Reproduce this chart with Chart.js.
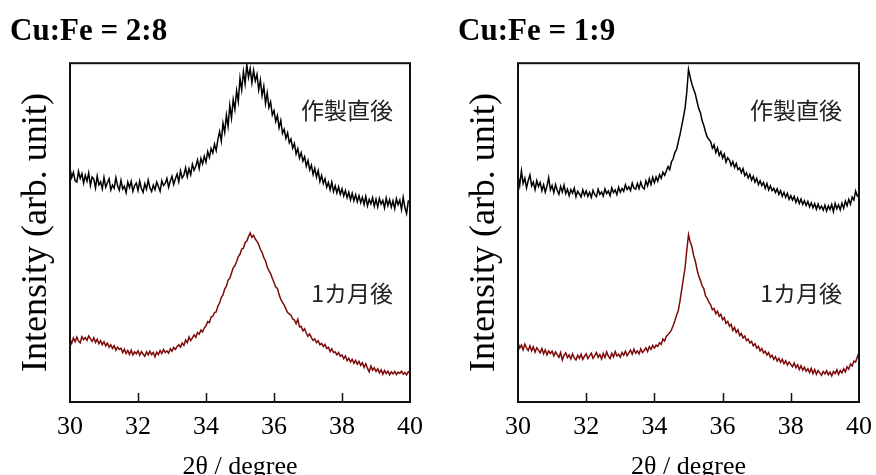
<!DOCTYPE html>
<html><head><meta charset="utf-8">
<script src="https://cdn.jsdelivr.net/npm/chart.js@4/dist/chart.umd.min.js"></script>
<style>
html,body{margin:0;padding:0;background:#fff;width:876px;height:475px;overflow:hidden;position:relative;}
.box{position:absolute;top:0;height:475px;}
</style></head><body>
<div class="box" style="left:0;width:440px"><canvas id="c1"></canvas></div>
<div class="box" style="left:440px;width:446px"><canvas id="c2"></canvas></div>
<script>
const panelTitles = ['Cu:Fe = 2:8', 'Cu:Fe = 1:9'];
const seriesLabels = ['作製直後', '1カ月後'];
const xTicks = [30, 32, 34, 36, 38, 40];
const twoTheta = [
30.00,30.05,30.10,30.15,30.20,30.25,30.30,30.35,30.40,30.45,
30.50,30.55,30.60,30.65,30.70,30.75,30.80,30.85,30.90,30.95,
31.00,31.05,31.10,31.15,31.20,31.25,31.30,31.35,31.40,31.45,
31.50,31.55,31.60,31.65,31.70,31.75,31.80,31.85,31.90,31.95,
32.00,32.05,32.10,32.15,32.20,32.25,32.30,32.35,32.40,32.45,
32.50,32.55,32.60,32.65,32.70,32.75,32.80,32.85,32.90,32.95,
33.00,33.05,33.10,33.15,33.20,33.25,33.30,33.35,33.40,33.45,
33.50,33.55,33.60,33.65,33.70,33.75,33.80,33.85,33.90,33.95,
34.00,34.05,34.10,34.15,34.20,34.25,34.30,34.35,34.40,34.45,
34.50,34.55,34.60,34.65,34.70,34.75,34.80,34.85,34.90,34.95,
35.00,35.05,35.10,35.15,35.20,35.25,35.30,35.35,35.40,35.45,
35.50,35.55,35.60,35.65,35.70,35.75,35.80,35.85,35.90,35.95,
36.00,36.05,36.10,36.15,36.20,36.25,36.30,36.35,36.40,36.45,
36.50,36.55,36.60,36.65,36.70,36.75,36.80,36.85,36.90,36.95,
37.00,37.05,37.10,37.15,37.20,37.25,37.30,37.35,37.40,37.45,
37.50,37.55,37.60,37.65,37.70,37.75,37.80,37.85,37.90,37.95,
38.00,38.05,38.10,38.15,38.20,38.25,38.30,38.35,38.40,38.45,
38.50,38.55,38.60,38.65,38.70,38.75,38.80,38.85,38.90,38.95,
39.00,39.05,39.10,39.15,39.20,39.25,39.30,39.35,39.40,39.45,
39.50,39.55,39.60,39.65,39.70,39.75,39.80,39.85,39.90,39.95,
40.00];

// Cu:Fe = 2:8
const cuFe28AsMade = [
69.0,66.2,67.8,65.3,64.9,68.1,66.0,67.4,64.6,66.9,
65.2,67.6,63.9,66.4,65.8,63.2,66.7,64.1,65.0,62.9,
66.3,63.4,64.7,65.9,62.6,64.0,63.1,66.2,63.8,62.5,
65.4,62.9,63.7,61.8,64.9,63.3,65.1,62.2,63.9,64.6,
62.4,65.2,63.0,61.9,64.4,62.8,65.5,63.2,62.1,64.0,
62.7,64.9,63.6,62.2,65.3,63.9,64.5,66.0,63.4,65.2,
66.6,64.2,65.9,67.3,65.0,68.2,66.1,67.0,69.1,66.5,
68.9,67.1,70.2,68.4,69.6,71.5,68.9,71.9,70.3,72.6,
70.8,73.9,72.2,74.8,73.5,76.1,74.2,77.5,79.8,77.0,
82.3,79.6,84.7,81.4,87.6,83.8,89.3,86.4,91.9,88.7,
95.6,92.1,97.5,93.9,99.6,95.8,98.4,94.2,97.9,94.8,
96.7,92.1,95.0,90.4,93.2,88.1,91.2,86.9,88.6,84.7,
86.0,82.8,84.6,80.9,83.1,79.3,80.5,77.8,79.4,76.5,
77.6,74.9,76.3,73.2,74.8,72.0,73.6,71.1,72.4,69.6,
71.3,68.5,69.9,67.2,69.0,66.4,68.3,65.1,66.9,64.5,
65.9,63.4,64.8,62.6,64.9,62.1,63.8,61.7,63.5,61.3,
62.9,60.8,62.4,60.3,61.9,59.7,61.6,59.4,61.2,59.1,
60.9,58.8,60.4,58.3,60.7,57.9,59.8,58.5,60.3,57.8,
59.9,57.6,60.1,58.4,59.5,57.3,60.2,58.0,59.7,57.5,
59.4,57.1,60.0,58.2,59.6,56.8,60.4,57.4,55.6,59.3,
59.4];
const cuFe28OneMonth = [
18.6,17.3,18.9,17.8,19.2,18.0,17.5,19.3,18.4,19.0,
18.2,19.5,18.7,17.9,19.0,17.6,18.5,17.2,18.1,16.9,
17.8,16.6,17.4,16.2,16.9,15.8,16.6,15.3,16.2,15.5,
15.9,14.6,15.6,14.3,15.2,14.0,15.3,13.9,14.8,14.2,
15.1,13.8,14.9,14.1,13.5,14.8,13.9,15.0,14.0,14.6,
13.3,14.7,14.0,15.2,14.3,15.5,14.6,15.1,14.4,15.7,
15.0,16.1,15.5,16.4,16.9,16.2,17.4,16.7,18.3,17.5,
19.2,18.1,18.9,19.8,19.1,20.5,20.0,21.2,20.7,21.9,
22.5,23.7,23.4,25.1,25.3,26.4,26.6,28.3,29.2,30.9,
31.6,33.4,34.2,36.0,36.5,38.1,39.6,40.2,41.5,42.9,
43.6,45.1,45.4,47.0,47.5,48.8,49.9,48.6,49.2,48.1,
47.4,46.5,45.0,44.2,42.6,41.7,39.9,38.8,37.9,36.5,
35.3,33.9,33.5,31.7,30.3,29.4,28.6,27.5,26.4,26.0,
25.6,24.5,24.2,23.1,24.4,22.2,22.3,21.0,21.6,20.3,
19.4,20.1,19.0,18.2,18.6,17.5,18.1,16.9,17.3,16.4,
17.0,15.8,16.2,14.9,15.7,14.6,14.8,13.9,14.6,13.5,
13.9,12.8,13.6,12.2,12.9,11.8,12.6,11.4,12.3,11.2,
12.0,10.8,11.6,10.2,11.3,9.9,8.9,10.6,9.4,10.1,
9.0,9.8,8.6,9.5,8.2,9.3,8.4,9.1,8.0,8.9,
8.3,9.0,8.1,8.8,8.4,9.1,8.2,8.7,8.0,8.9,
8.6];

// Cu:Fe = 1:9
const cuFe19AsMade = [
66.8,63.9,68.2,64.5,66.1,63.2,65.4,67.0,63.8,64.9,
62.7,65.3,63.6,64.8,62.4,64.1,61.9,63.7,66.2,62.6,
63.9,61.8,64.2,62.5,61.3,63.6,62.0,64.0,61.5,62.8,
60.9,62.7,61.6,63.1,60.6,62.2,61.4,60.5,62.6,61.0,
62.3,60.7,61.9,60.4,62.5,61.2,60.6,62.8,61.3,62.0,
60.8,62.9,61.5,62.3,60.9,63.2,61.8,62.6,61.2,63.4,
61.9,63.0,62.2,64.1,62.7,63.5,62.4,64.6,63.1,62.8,
64.5,63.0,64.9,63.4,62.9,65.3,63.8,65.9,64.2,66.3,
64.7,66.4,65.2,67.1,66.0,67.8,66.9,68.2,69.5,68.6,
70.9,71.8,73.6,74.5,76.8,78.9,81.4,84.0,86.8,91.5,
98.2,95.9,93.8,92.3,90.9,88.7,86.6,85.4,83.0,81.6,
79.7,78.2,77.5,76.8,74.9,75.9,73.6,75.0,72.8,73.9,
72.0,73.2,70.8,72.1,71.4,69.8,71.0,69.2,70.4,68.6,
69.1,67.7,68.9,66.8,67.6,66.1,67.2,65.5,66.6,64.9,
66.0,64.2,65.3,63.9,64.8,63.1,64.5,62.6,63.8,62.4,
63.1,61.8,62.9,61.3,62.4,60.7,61.9,60.4,61.6,59.8,
60.9,59.6,60.7,58.9,60.2,58.6,59.9,58.3,59.4,58.0,
59.2,57.6,58.8,57.3,58.5,56.9,58.4,57.0,57.8,56.6,
58.1,56.4,57.9,56.8,58.3,56.2,58.6,57.0,58.2,56.7,
58.7,57.2,59.3,57.9,59.8,58.4,60.5,59.6,62.3,60.8,
61.2];
const cuFe19OneMonth = [
17.6,15.9,16.8,15.4,17.1,16.0,15.2,16.6,15.1,16.3,
14.7,16.0,15.3,14.5,15.8,14.2,15.4,13.9,15.1,14.3,
15.0,13.6,14.8,14.0,13.2,14.6,12.4,13.8,14.5,13.1,
13.9,12.7,14.2,13.0,12.4,13.8,12.9,14.1,12.6,13.5,
14.2,12.8,13.6,14.4,12.9,13.7,14.6,13.2,14.0,12.7,
14.3,13.1,14.8,13.5,12.8,14.4,13.3,14.9,13.6,14.1,
13.2,14.6,13.8,15.0,13.7,14.5,15.3,14.1,15.6,14.4,
15.1,14.2,15.7,14.6,15.2,16.0,14.9,16.3,15.5,16.7,
15.9,16.8,16.4,17.5,17.0,18.6,18.0,19.4,19.9,20.5,
21.3,22.6,24.0,25.6,26.9,29.8,33.2,36.4,39.7,44.8,
49.4,47.2,45.9,43.2,41.6,39.1,37.2,35.9,34.3,33.4,
31.3,30.6,29.4,28.7,27.2,27.6,26.1,26.8,25.3,25.9,
24.3,24.9,23.2,23.8,22.4,22.9,21.1,22.0,20.5,21.3,
19.6,20.2,18.9,19.5,18.1,18.6,17.4,17.9,16.6,17.2,
15.9,16.4,15.1,15.8,14.5,15.0,13.9,14.6,13.2,13.8,
12.6,13.4,12.1,12.9,11.7,12.6,11.3,12.2,10.9,11.8,
11.1,10.4,11.5,10.1,11.0,9.6,10.7,9.4,10.3,9.1,
9.8,8.7,9.9,8.4,9.6,8.2,9.3,8.6,7.9,9.0,
8.3,9.2,8.0,8.8,7.7,9.0,8.4,9.5,8.1,9.3,
8.6,9.8,8.9,10.4,9.7,11.2,10.6,12.1,11.8,13.3,
14.6];

const SERIF = '"Liberation Serif", "Times New Roman", serif';

function toPoints(ys){ return twoTheta.map((x,i)=>({x:x, y:ys[i]})); }

function makeChart(id, title, asMade, oneMonth, pad){
  const decor = {
    id: 'decor',
    afterDraw(chart){
      const {ctx, chartArea:a} = chart;
      const xs = chart.scales.x;
      ctx.save();
      ctx.strokeStyle = '#111';
      ctx.lineWidth = 2;
      ctx.strokeRect(a.left, a.top, a.right - a.left, a.bottom - a.top);
      ctx.lineWidth = 1.5;
      xTicks.slice(1, -1).forEach(v => {
        const px = Math.round(xs.getPixelForValue(v)) + 0.5;
        ctx.beginPath();
        ctx.moveTo(px, a.bottom);
        ctx.lineTo(px, a.bottom - 9);
        ctx.stroke();
      });
      ctx.fillStyle = '#222';
      ctx.font = '23px "Noto Sans CJK JP", sans-serif';
      ctx.textAlign = 'right';
      ctx.textBaseline = 'middle';
      ctx.fillText(seriesLabels[0], a.right - 17, a.top + 47);
      ctx.fillText(seriesLabels[1], a.right - 17, a.top + 230);
      ctx.restore();
    }
  };
  return new Chart(document.getElementById(id), {
    type: 'line',
    data: {
      datasets: [
        {label: seriesLabels[0], data: toPoints(asMade), borderColor: '#000', borderWidth: 1.5, pointRadius: 0, tension: 0},
        {label: seriesLabels[1], data: toPoints(oneMonth), borderColor: '#7d0a0a', borderWidth: 1.5, pointRadius: 0, tension: 0}
      ]
    },
    options: {
      responsive: true,
      maintainAspectRatio: false,
      animation: false,
      layout: {padding: {left: pad.left, right: pad.right, top: 0, bottom: 0}},
      plugins: {
        legend: {display: false},
        tooltip: {enabled: false},
        title: {
          display: true, text: title, align: 'start', color: '#000',
          font: {family: SERIF, size: 31, weight: 'bold'},
          padding: {top: 13, bottom: 13}
        }
      },
      scales: {
        x: {
          type: 'linear', min: 30, max: 40,
          afterBuildTicks: s => { s.ticks = xTicks.map(v => ({value: v})); },
          afterFit: s => { s.height = 73; },
          grid: {display: false, drawTicks: false},
          border: {display: false},
          ticks: {color: '#000', font: {family: SERIF, size: 26}, padding: 10, maxRotation: 0, autoSkip: false},
          title: {display: true, text: '2θ / degree', color: '#000', font: {family: SERIF, size: 26}, padding: {top: 0, bottom: -7.6}}
        },
        y: {
          min: 0, max: 100,
          afterFit: s => { s.width = 60; },
          grid: {display: false, drawTicks: false},
          border: {display: false},
          ticks: {display: false},
          title: {display: true, text: 'Intensity (arb. unit)', color: '#000', font: {family: SERIF, size: 36}, padding: {top: 5.4, bottom: 0}}
        }
      }
    },
    plugins: [decor]
  });
}

makeChart('c1', panelTitles[0], cuFe28AsMade, cuFe28OneMonth, {left: 10, right: 30});
makeChart('c2', panelTitles[1], cuFe19AsMade, cuFe19OneMonth, {left: 18, right: 27});
</script>
</body></html>
